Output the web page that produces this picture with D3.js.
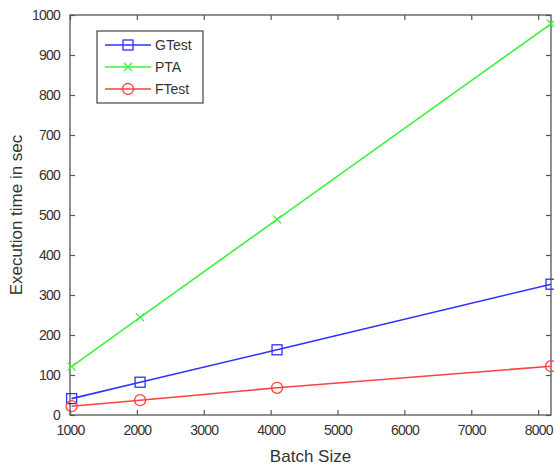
<!DOCTYPE html>
<html>
<head>
<meta charset="utf-8">
<script src="https://cdn.jsdelivr.net/npm/d3@7"></script>
<style>
  body { margin: 0; background: #fff; }
  text { font-family: "Liberation Sans", Arial, sans-serif; fill: #333; }
</style>
</head>
<body>
<div id="wrapper"></div>
<script>
const batchSizes = [1024, 2048, 4096, 8192]
const gtestTimes = [41, 82, 163, 327]
const ptaTimes = [121, 244, 489, 978]
const ftestTimes = [22, 37, 68, 122]
const xTicks = [1000, 2000, 3000, 4000, 5000, 6000, 7000, 8000]
const yTicks = [0, 100, 200, 300, 400, 500, 600, 700, 800, 900, 1000]

const seriesList = [
    { name: "GTest", values: gtestTimes, color: "#3030ff", marker: "square" },
    { name: "PTA", values: ptaTimes, color: "#3cf03c", marker: "cross" },
    { name: "FTest", values: ftestTimes, color: "#ff4040", marker: "circle" },
]

const dimensions = {
    width: 554,
    height: 468,
    margin: { top: 15, right: 3, bottom: 53, left: 70 },
}
dimensions.boundedWidth = dimensions.width - dimensions.margin.left - dimensions.margin.right
dimensions.boundedHeight = dimensions.height - dimensions.margin.top - dimensions.margin.bottom

const svg = d3.select("#wrapper").append("svg")
    .attr("width", dimensions.width)
    .attr("height", dimensions.height)

const bounds = svg.append("g")
    .attr("transform", `translate(${dimensions.margin.left},${dimensions.margin.top})`)

const xScale = d3.scaleLinear().domain([1000, 8192]).range([0, dimensions.boundedWidth])
const yScale = d3.scaleLinear().domain([0, 1000]).range([dimensions.boundedHeight, 0])

// matlab style: ticks point inward, on all four sides
const tickLen = 5
const styleAxis = g => {
    g.select(".domain").remove()
    g.selectAll("line").attr("stroke", "#555").attr("stroke-width", 1.2)
    g.selectAll("text").style("font-size", "14px").style("letter-spacing", "-0.8px").attr("fill", "#333")
}
bounds.append("g")
    .attr("transform", `translate(0,${dimensions.boundedHeight})`)
    .call(d3.axisBottom(xScale).tickValues(xTicks).tickSize(-tickLen).tickPadding(10).tickFormat(d3.format("d")))
    .call(styleAxis)
bounds.append("g")
    .call(d3.axisTop(xScale).tickValues(xTicks).tickSize(-tickLen).tickFormat(""))
    .call(styleAxis)
bounds.append("g")
    .call(d3.axisLeft(yScale).tickValues(yTicks).tickSize(-tickLen).tickPadding(10).tickFormat(d3.format("d")))
    .call(styleAxis)
bounds.append("g")
    .attr("transform", `translate(${dimensions.boundedWidth},0)`)
    .call(d3.axisRight(yScale).tickValues(yTicks).tickSize(-tickLen).tickFormat(""))
    .call(styleAxis)

bounds.append("rect")
    .attr("width", dimensions.boundedWidth)
    .attr("height", dimensions.boundedHeight)
    .attr("fill", "none")
    .attr("stroke", "#555")
    .attr("stroke-width", 1.3)

const drawMarker = (g, type, x, y, color) => {
    if (type === "square") {
        g.append("rect").attr("x", x - 5).attr("y", y - 5).attr("width", 10).attr("height", 10)
            .attr("fill", "none").attr("stroke", color).attr("stroke-width", 1.3)
    } else if (type === "circle") {
        g.append("circle").attr("cx", x).attr("cy", y).attr("r", 5.5)
            .attr("fill", "none").attr("stroke", color).attr("stroke-width", 1.3)
    } else {
        g.append("path").attr("d", `M${x - 4},${y - 4}L${x + 4},${y + 4}M${x - 4},${y + 4}L${x + 4},${y - 4}`)
            .attr("stroke", color).attr("stroke-width", 1.3)
    }
}

const line = d3.line()
    .x((d, i) => xScale(batchSizes[i]))
    .y(d => yScale(d))

seriesList.forEach(s => {
    bounds.append("path")
        .datum(s.values)
        .attr("d", line)
        .attr("fill", "none")
        .attr("stroke", s.color)
        .attr("stroke-width", 1.6)
    s.values.forEach((v, i) => drawMarker(bounds, s.marker, xScale(batchSizes[i]), yScale(v), s.color))
})

// axis labels
bounds.append("text")
    .attr("x", dimensions.boundedWidth / 2)
    .attr("y", dimensions.boundedHeight + 47)
    .attr("text-anchor", "middle")
    .style("font-size", "17px")
    .text("Batch Size")

bounds.append("text")
    .attr("transform", `translate(-48,${dimensions.boundedHeight / 2}) rotate(-90)`)
    .attr("text-anchor", "middle")
    .style("font-size", "17px")
    .text("Execution time in sec")

// legend
const legend = svg.append("g").attr("transform", "translate(97,31)")
legend.append("rect")
    .attr("width", 106).attr("height", 72)
    .attr("fill", "#fff").attr("stroke", "#444").attr("stroke-width", 1.2)
seriesList.forEach((s, i) => {
    const y = 14 + i * 22
    legend.append("line").attr("x1", 8).attr("x2", 54).attr("y1", y).attr("y2", y)
        .attr("stroke", s.color).attr("stroke-width", 1.6)
    drawMarker(legend, s.marker, 31, y, s.color)
    legend.append("text").attr("x", 58).attr("y", y + 5)
        .style("font-size", "14px").text(s.name)
})
</script>
</body>
</html>
